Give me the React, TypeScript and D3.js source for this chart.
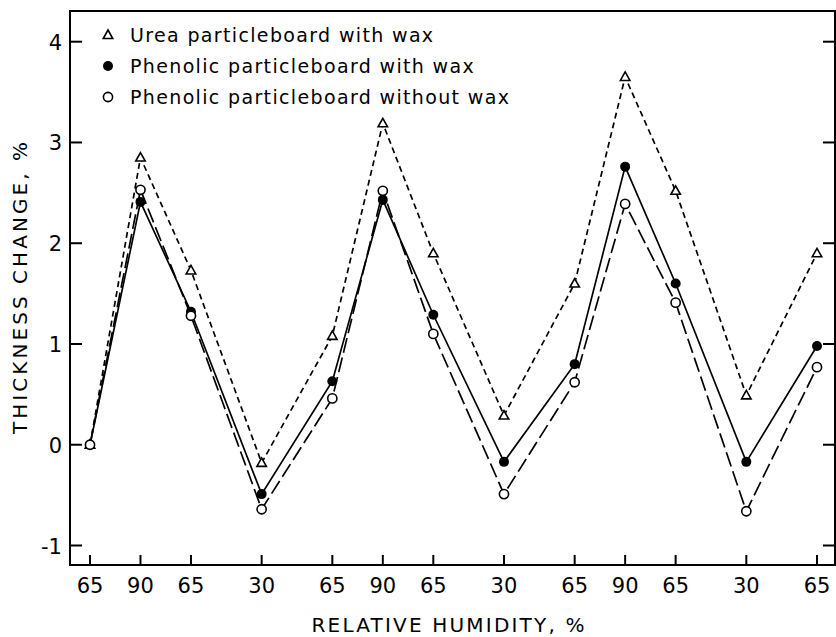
import React from "react";
import * as d3 from "d3";

// relative humidity sequence along the x axis
const rhSteps = [65, 90, 65, 30, 65, 90, 65, 30, 65, 90, 65, 30, 65];

// thickness change, %
const ureaWax = [0, 2.85, 1.73, -0.18, 1.08, 3.19, 1.9, 0.29, 1.6, 3.65, 2.52, 0.49, 1.9];
const phenolicWax = [0, 2.41, 1.32, -0.49, 0.63, 2.43, 1.29, -0.17, 0.8, 2.76, 1.6, -0.17, 0.98];
const phenolicNoWax = [0, 2.53, 1.28, -0.64, 0.46, 2.52, 1.1, -0.49, 0.62, 2.39, 1.41, -0.66, 0.77];

const yTicks = [-1, 0, 1, 2, 3, 4];

const legendLabels = [
  "Urea particleboard with wax",
  "Phenolic particleboard with wax",
  "Phenolic particleboard without wax",
];

const W = 836;
const H = 637;
const left = 70;
const right = 835;
const top = 11;
const bottom = 565;
const font = "'DejaVu Sans', sans-serif";

// cumulative humidity change gives the x position of each step
const cumRh: number[] = [];
rhSteps.forEach((v, i) => {
  cumRh.push(i === 0 ? 0 : cumRh[i - 1] + Math.abs(v - rhSteps[i - 1]));
});

export default function App() {
  const x = d3.scaleLinear().domain([0, cumRh[cumRh.length - 1]]).range([90, 817]);
  const y = d3.scaleLinear().domain([-1, 4]).range([545.5, 41.7]);

  const line = d3
    .line<number>()
    .x((_, i) => x(cumRh[i]))
    .y((d) => y(d));

  const series = [
    { data: ureaWax, dash: "6,4", marker: "tri" },
    { data: phenolicWax, dash: "none", marker: "filled" },
    { data: phenolicNoWax, dash: "15,5", marker: "open" },
  ];

  const tri = (cx: number, cy: number, s = 5) =>
    `M${cx},${cy - s} L${cx + s * 0.95},${cy + s * 0.7} L${cx - s * 0.95},${cy + s * 0.7} Z`;

  const drawMarker = (type: string, cx: number, cy: number, key: string | number) => {
    if (type === "tri")
      return <path key={key} d={tri(cx, cy)} fill="#fff" stroke="#000" strokeWidth={1.6} />;
    if (type === "filled") return <circle key={key} cx={cx} cy={cy} r={5} fill="#000" />;
    return <circle key={key} cx={cx} cy={cy} r={4.6} fill="#fff" stroke="#000" strokeWidth={1.6} />;
  };

  return (
    <svg
      width={W}
      height={H}
      style={{ position: "absolute", left: 0, top: 0, background: "#fff" }}
      fontFamily={font}
    >
      <rect width={W} height={H} fill="#fff" />

      {/* frame */}
      <path
        d={`M${left},${top} L${right},${top} L${right},${bottom} L${left},${bottom} Z`}
        fill="none"
        stroke="#000"
        strokeWidth={2}
      />

      {/* y ticks, both sides */}
      {yTicks.map((t) => (
        <g key={"y" + t}>
          <line x1={left} x2={left + 12} y1={y(t)} y2={y(t)} stroke="#000" strokeWidth={2} />
          <line x1={right - 12} x2={right} y1={y(t)} y2={y(t)} stroke="#000" strokeWidth={2} />
          <text x={62} y={y(t) + 8} fontSize={21} textAnchor="end">
            {t}
          </text>
        </g>
      ))}

      {/* x ticks */}
      {rhSteps.map((v, i) => (
        <g key={"x" + i}>
          <line x1={x(cumRh[i])} x2={x(cumRh[i])} y1={bottom} y2={bottom - 10} stroke="#000" strokeWidth={2} />
          <text x={x(cumRh[i])} y={593} fontSize={21} textAnchor="middle">
            {v}
          </text>
        </g>
      ))}

      {/* axis titles */}
      <text x={448} y={632} fontSize={20} textAnchor="middle" textLength={273} lengthAdjust="spacing">
        RELATIVE HUMIDITY, %
      </text>
      <text
        transform="translate(27,288) rotate(-90)"
        fontSize={20}
        textAnchor="middle"
        textLength={292}
        lengthAdjust="spacing"
      >
        THICKNESS CHANGE, %
      </text>

      {/* series */}
      {series.map((s, si) => (
        <g key={"s" + si}>
          <path d={line(s.data) || ""} fill="none" stroke="#000" strokeWidth={1.7} strokeDasharray={s.dash} />
          {s.data.map((v, i) => drawMarker(s.marker, x(cumRh[i]), y(v), i))}
        </g>
      ))}

      {/* legend */}
      {legendLabels.map((l, i) => (
        <g key={"l" + i}>
          {drawMarker(series[i].marker, 108, 35 + i * 31, "m")}
          <text x={130} y={42 + i * 31} fontSize={19} letterSpacing={1.35}>
            {l}
          </text>
        </g>
      ))}
    </svg>
  );
}
